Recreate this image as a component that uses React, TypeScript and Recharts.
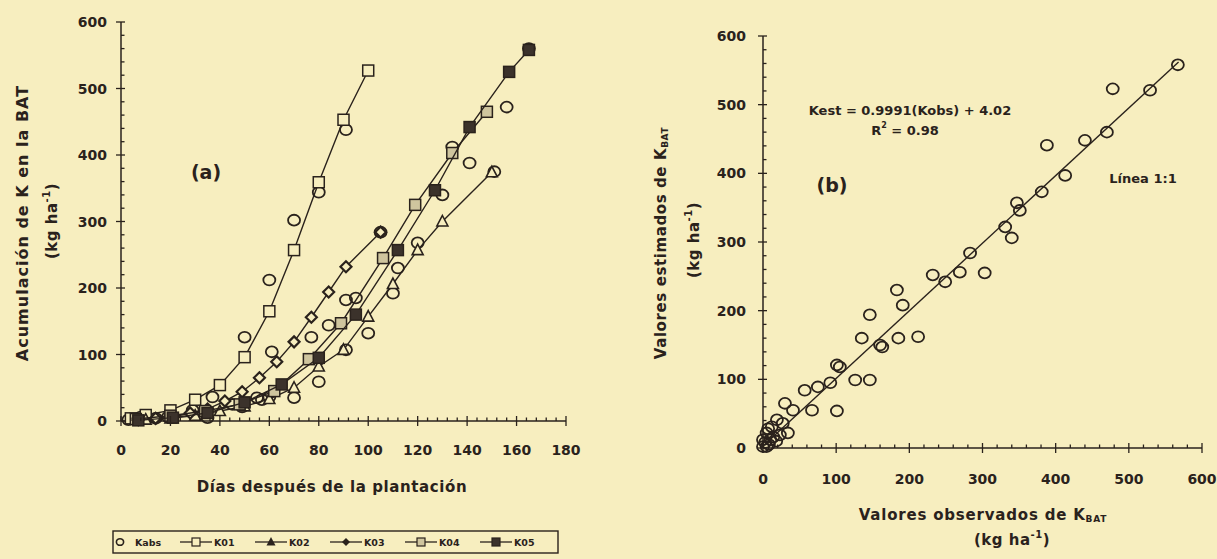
import React from "react"
import { ScatterChart, Scatter, XAxis, YAxis } from "recharts"

const BG = "#f7eebf"
const INK = "#2a221c"
const FONT = "'DejaVu Sans', 'Liberation Sans', sans-serif"

// panel (a): days after planting vs K accumulation (kg/ha)
const dayTicks = [0, 20, 40, 60, 80, 100, 120, 140, 160, 180]
const accTicks = [0, 100, 200, 300, 400, 500, 600]

const kabs = [
  [3, 2], [8, 6], [14, 4], [19, 6], [29, 16], [35, 5], [37, 36], [45, 25], [49, 21],
  [50, 126], [55, 35], [57, 32], [60, 36], [60, 212], [61, 104], [70, 302], [70, 35],
  [77, 126], [80, 59], [80, 344], [84, 144], [91, 438], [91, 182], [91, 107], [95, 185],
  [100, 132], [105, 284], [110, 192], [112, 230], [120, 268], [130, 340], [134, 412],
  [141, 388], [151, 375], [156, 472], [165, 560],
]
const k01 = [
  [4, 4], [10, 9], [20, 16], [30, 32], [40, 54], [50, 96], [60, 165], [70, 257],
  [80, 359], [90, 453], [100, 527],
]
const k02 = [
  [10, 2], [20, 4], [30, 8], [40, 15], [50, 22], [60, 33], [70, 50], [80, 82],
  [90, 107], [100, 157], [110, 206], [120, 257], [130, 300], [150, 374],
]
const k03 = [
  [7, 2], [14, 4], [21, 6], [28, 12], [35, 18], [42, 30], [49, 44], [56, 65], [63, 89],
  [70, 119], [77, 156], [84, 194], [91, 232], [105, 284],
]
const k04 = [
  [6, 3], [20, 8], [34, 15], [48, 25], [62, 45], [76, 93], [89, 147], [106, 245],
  [119, 325], [134, 403], [148, 465],
]
const k05 = [
  [7, 1], [21, 5], [35, 12], [50, 28], [65, 55], [80, 95], [95, 160], [112, 257],
  [127, 347], [141, 442], [157, 525], [165, 558],
]

// panel (b): observed vs estimated K (kg/ha)
const obsTicks = [0, 100, 200, 300, 400, 500, 600]
const estTicks = [0, 100, 200, 300, 400, 500, 600]
const obsEst = [
  [567, 558], [529, 521], [478, 523], [470, 460], [440, 448], [388, 441], [413, 397],
  [381, 373], [351, 346], [347, 357], [340, 306], [331, 322], [283, 284], [269, 256],
  [232, 252], [249, 242], [303, 255], [212, 162], [185, 160], [191, 208], [183, 230],
  [160, 150], [146, 194], [135, 160], [163, 147], [101, 121], [105, 118], [126, 99],
  [146, 99], [92, 95], [75, 89], [57, 84], [67, 55], [101, 54], [41, 55], [30, 65],
  [19, 41], [34, 22], [27, 36], [12, 31], [5, 22], [0, 12], [0, 2], [5, 2], [14, 16],
  [23, 19], [3, 8], [8, 5], [10, 12], [18, 10], [7, 28],
]
const oneToOne = [[0, 3], [568, 562]]

const pts = (arr: number[][]) => arr.map(([x, y]) => ({ x, y }))

const withMinor = (majors: number[], parts: number) => {
  const out: number[] = []
  for (let i = 0; i < majors.length - 1; i++) {
    const step = (majors[i + 1] - majors[i]) / parts
    for (let j = 0; j < parts; j++) out.push(majors[i] + j * step)
  }
  out.push(majors[majors.length - 1])
  return out
}

const tickText = { fill: INK, fontFamily: FONT, fontWeight: 700, fontSize: 14 }

const bottomTick = (majors: number[], dy: number) => (p: any) => {
  const v = p.payload.value
  const major = majors.includes(v)
  return (
    <g>
      <line x1={p.x} x2={p.x} y1={major ? p.y + 5 : p.y} y2={major ? p.y - 5 : p.y - 3.5}
        stroke={INK} strokeWidth={1.3} />
      {major && (
        <text x={p.x} y={p.y + dy} textAnchor="middle" dominantBaseline="central" {...tickText}>
          {v}
        </text>
      )}
    </g>
  )
}

const leftTick = (majors: number[], dx: number) => (p: any) => {
  const v = p.payload.value
  const major = majors.includes(v)
  return (
    <g>
      <line y1={p.y} y2={p.y} x1={major ? p.x - 5 : p.x} x2={major ? p.x + 4 : p.x + 3.5}
        stroke={INK} strokeWidth={1.3} />
      {major && (
        <text x={p.x - dx} y={p.y} textAnchor="end" dominantBaseline="central" {...tickText}>
          {v}
        </text>
      )}
    </g>
  )
}

const Circle = (p: any) => (
  <ellipse cx={p.cx} cy={p.cy} rx={6} ry={5.4} fill="none" stroke={INK} strokeWidth={1.8} />
)
const Square = (fill: string) => (p: any) => (
  <rect x={p.cx - 5.5} y={p.cy - 5.5} width={11} height={11} fill={fill} stroke={INK} strokeWidth={1.5} />
)
const Triangle = (p: any) => (
  <polygon points={`${p.cx},${p.cy - 6} ${p.cx + 5.5},${p.cy + 4.5} ${p.cx - 5.5},${p.cy + 4.5}`}
    fill={BG} stroke={INK} strokeWidth={1.6} />
)
const Diamond = (p: any) => (
  <polygon points={`${p.cx},${p.cy - 5.5} ${p.cx + 5.5},${p.cy} ${p.cx},${p.cy + 5.5} ${p.cx - 5.5},${p.cy}`}
    fill={BG} stroke={INK} strokeWidth={2.2} />
)
const Nothing = () => <g />

const lineStyle = { stroke: INK, strokeWidth: 1.4 }
const axisLine = { stroke: INK, strokeWidth: 1.5 }

function PanelA() {
  return (
    <ScatterChart width={600} height={470} margin={{ top: 22, right: 34, bottom: 19, left: 61 }}>
      <XAxis type="number" dataKey="x" domain={[0, 180]} ticks={withMinor(dayTicks, 5)} interval={0}
        height={30} tickSize={0} tickMargin={0} tickLine={false} axisLine={axisLine}
        tick={bottomTick(dayTicks, 29)} />
      <YAxis type="number" dataKey="y" domain={[0, 600]} ticks={withMinor(accTicks, 5)} interval={0}
        width={60} tickSize={0} tickMargin={0} tickLine={false} axisLine={axisLine}
        tick={leftTick(accTicks, 14)} />
      <Scatter data={pts(kabs)} shape={Circle} isAnimationActive={false} />
      <Scatter data={pts(k01)} line={lineStyle} lineType="joint" shape={Square(BG)} isAnimationActive={false} />
      <Scatter data={pts(k02)} line={lineStyle} lineType="joint" shape={Triangle} isAnimationActive={false} />
      <Scatter data={pts(k03)} line={lineStyle} lineType="joint" shape={Diamond} isAnimationActive={false} />
      <Scatter data={pts(k04)} line={lineStyle} lineType="joint" shape={Square("#cfc59e")} isAnimationActive={false} />
      <Scatter data={pts(k05)} line={lineStyle} lineType="joint" shape={Square("#3b322b")} isAnimationActive={false} />
    </ScatterChart>
  )
}

function PanelB() {
  return (
    <ScatterChart width={617} height={490} margin={{ top: 36, right: 15, bottom: 12, left: 103 }}>
      <XAxis type="number" dataKey="x" domain={[0, 600]} ticks={withMinor(obsTicks, 5)} interval={0}
        height={30} tickSize={0} tickMargin={0} tickLine={false} axisLine={axisLine}
        tick={bottomTick(obsTicks, 31)} />
      <YAxis type="number" dataKey="y" domain={[0, 600]} ticks={withMinor(estTicks, 5)} interval={0}
        width={60} tickSize={0} tickMargin={0} tickLine={false} axisLine={axisLine}
        tick={leftTick(estTicks, 17)} />
      <Scatter data={pts(oneToOne)} line={lineStyle} lineType="joint" shape={Nothing} isAnimationActive={false} />
      <Scatter data={pts(obsEst)} shape={Circle} isAnimationActive={false} />
    </ScatterChart>
  )
}

const T = { fill: INK, fontFamily: FONT, fontWeight: 700 }

function LegendBox() {
  const items = [
    { name: "K01", sym: "sq" },
    { name: "K02", sym: "tri" },
    { name: "K03", sym: "dia" },
    { name: "K04", sym: "sq4" },
    { name: "K05", sym: "sq5" },
  ]
  const y = 542
  return (
    <g>
      <rect x={113} y={531} width={445} height={22} fill="none" stroke={INK} strokeWidth={1.4} />
      <ellipse cx={120} cy={y} rx={3.6} ry={3.3} fill="none" stroke={INK} strokeWidth={1.6} />
      <text x={135} y={y} dominantBaseline="central" fontSize={9.5} {...T}>Kabs</text>
      {items.map((it, i) => {
        const x0 = 180 + i * 75
        const c = x0 + 16
        return (
          <g key={it.name}>
            <line x1={x0} x2={x0 + 32} y1={y} y2={y} stroke={INK} strokeWidth={1.3} />
            {it.sym === "sq" && <rect x={c - 4} y={y - 4} width={8} height={8} fill={BG} stroke={INK} strokeWidth={1.2} />}
            {it.sym === "sq4" && <rect x={c - 4} y={y - 4} width={8} height={8} fill="#cfc59e" stroke={INK} strokeWidth={1.2} />}
            {it.sym === "sq5" && <rect x={c - 4} y={y - 4} width={8} height={8} fill="#3b322b" stroke={INK} strokeWidth={1.2} />}
            {it.sym === "tri" && <polygon points={`${c},${y - 5} ${c + 4.5},${y + 3.5} ${c - 4.5},${y + 3.5}`} fill={INK} />}
            {it.sym === "dia" && <polygon points={`${c},${y - 4} ${c + 4},${y} ${c},${y + 4} ${c - 4},${y}`} fill={INK} />}
            <text x={x0 + 34} y={y} dominantBaseline="central" fontSize={9.5} {...T}>{it.name}</text>
          </g>
        )
      })}
    </g>
  )
}

function Overlay() {
  return (
    <svg width={1217} height={559} style={{ position: "absolute", left: 0, top: 0, pointerEvents: "none" }}>
      {/* panel (a) */}
      <text transform="translate(22,223) rotate(-90)" textAnchor="middle" dominantBaseline="central"
        fontSize={16} letterSpacing={1} {...T}>Acumulación de K en la BAT</text>
      <text transform="translate(52,221) rotate(-90)" textAnchor="middle" dominantBaseline="central"
        fontSize={15} letterSpacing={0.5} {...T}>
        (kg ha<tspan dy={-6} fontSize={10}>-1</tspan><tspan dy={6}>)</tspan>
      </text>
      <text x={206} y={172} textAnchor="middle" dominantBaseline="central" fontSize={19} {...T}>(a)</text>
      <text x={332} y={487} textAnchor="middle" dominantBaseline="central" fontSize={15}
        letterSpacing={0.6} {...T}>Días después de la plantación</text>
      <LegendBox />

      {/* panel (b) */}
      <text transform="translate(661,243) rotate(-90)" textAnchor="middle" dominantBaseline="central"
        fontSize={15} letterSpacing={0.6} {...T}>
        Valores estimados de K<tspan dy={4} fontSize={9}>BAT</tspan>
      </text>
      <text transform="translate(694,240) rotate(-90)" textAnchor="middle" dominantBaseline="central"
        fontSize={15} letterSpacing={0.5} {...T}>
        (kg ha<tspan dy={-6} fontSize={10}>-1</tspan><tspan dy={6}>)</tspan>
      </text>
      <text x={983} y={515} textAnchor="middle" dominantBaseline="central" fontSize={15}
        letterSpacing={0.8} {...T}>
        Valores observados de K<tspan dy={4} fontSize={9}>BAT</tspan>
      </text>
      <text x={1012} y={540} textAnchor="middle" dominantBaseline="central" fontSize={15}
        letterSpacing={0.5} {...T}>
        (kg ha<tspan dy={-6} fontSize={10}>-1</tspan><tspan dy={6}>)</tspan>
      </text>
      <text x={910} y={110} textAnchor="middle" dominantBaseline="central" fontSize={13} {...T}>
        Kest = 0.9991(Kobs) + 4.02
      </text>
      <text x={905} y={130} textAnchor="middle" dominantBaseline="central" fontSize={13} {...T}>
        R<tspan dy={-5} fontSize={8}>2</tspan><tspan dy={5}> = 0.98</tspan>
      </text>
      <text x={832} y={185} textAnchor="middle" dominantBaseline="central" fontSize={19} {...T}>(b)</text>
      <text x={1143} y={178} textAnchor="middle" dominantBaseline="central" fontSize={13} {...T}>Línea 1:1</text>
    </svg>
  )
}

export default function App() {
  return (
    <div style={{ position: "absolute", left: 0, top: 0, width: 1217, height: 559, background: BG, overflow: "hidden" }}>
      <div style={{ position: "absolute", left: 0, top: 0 }}>
        <PanelA />
      </div>
      <div style={{ position: "absolute", left: 600, top: 0 }}>
        <PanelB />
      </div>
      <Overlay />
    </div>
  )
}
